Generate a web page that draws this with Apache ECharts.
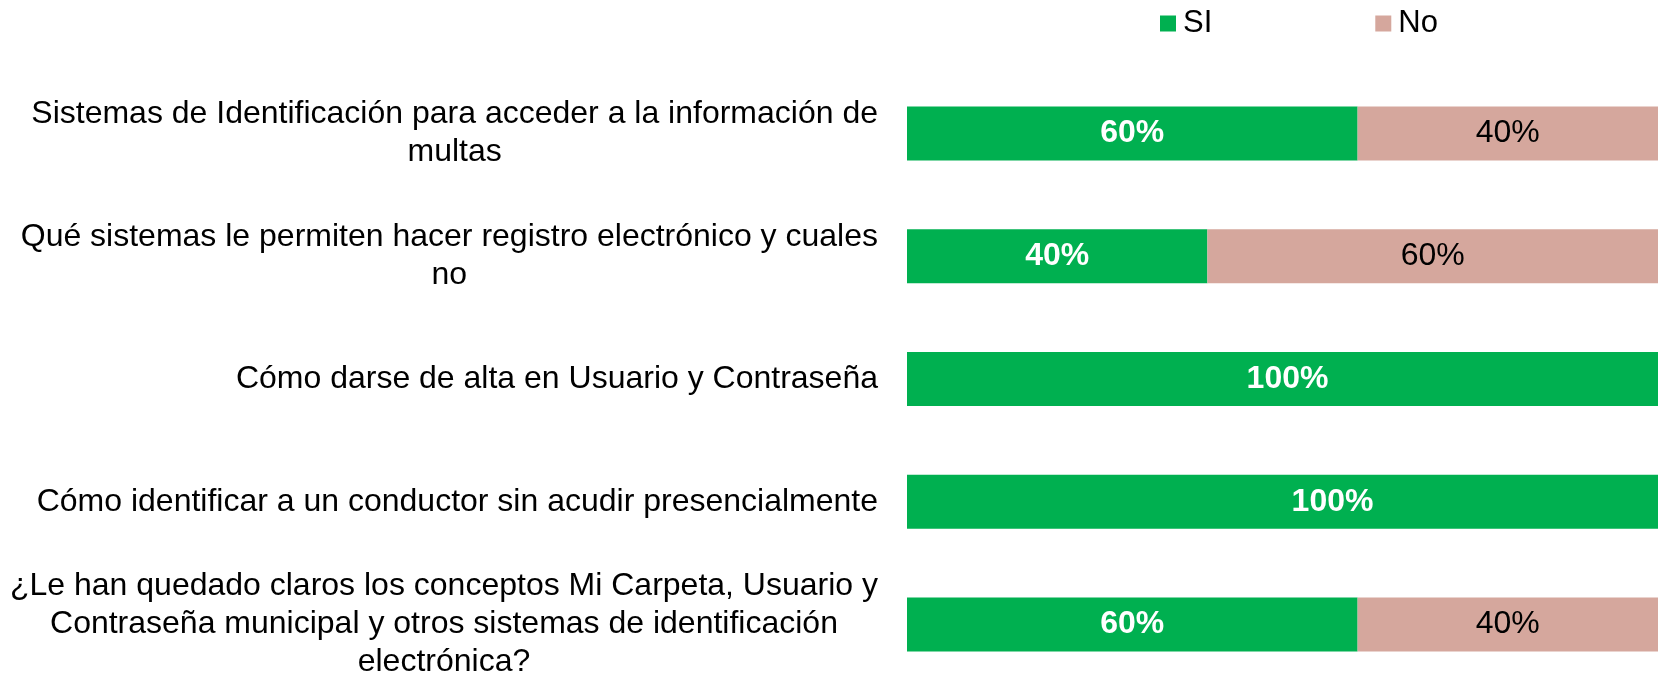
<!DOCTYPE html>
<html>
<head>
<meta charset="utf-8">
<script src="https://cdn.jsdelivr.net/npm/echarts@6/dist/echarts.min.js"></script>
<style>
    html, body { margin: 0; padding: 0; background: #fff; }
</style>
</head>
<body>
<div style="width:1658px;height:674px;" id="chart_con"></div>
<script>
// datos de la encuesta (%)
const categories = [
    'Sistemas de Identificación para acceder a la información de\nmultas',
    'Qué sistemas le permiten hacer registro electrónico y cuales\nno',
    'Cómo darse de alta en Usuario y Contraseña',
    'Cómo identificar a un conductor sin acudir presencialmente',
    '¿Le han quedado claros los conceptos Mi Carpeta, Usuario y\nContraseña municipal y otros sistemas de identificación\nelectrónica?'
];
const siValues = [60, 40, 100, 100, 60];
const noValues = [40, 60, 0, 0, 40];

// desplazamiento de etiquetas como en el original
const siLabelShift = [0, 0, 5, 50, 0];

const font = '"Liberation Sans", Arial, sans-serif';

let option = {
    animation: false,
    legend: {
        left: 1155,
        top: 3,
        itemWidth: 16,
        itemHeight: 16,
        itemGap: 163,
        icon: 'rect',
        textStyle: { fontFamily: font, fontSize: 31, color: '#000', padding: [0, 0, 0, 2] },
        data: ['SI', 'No']
    },
    grid: {
        left: 907,
        right: 0,
        top: 72,
        height: 614,
        outerBoundsMode: 'none'
    },
    xAxis: {
        type: 'value',
        min: 0,
        max: 100,
        show: false
    },
    yAxis: {
        type: 'category',
        inverse: true,
        data: categories,
        axisLine: { show: false },
        axisTick: { show: false },
        axisLabel: {
            margin: 29,
            fontFamily: font,
            fontSize: 32,
            color: '#000',
            lineHeight: 38,
            formatter: function (v) {
                return v.split('\n').map(function (l) { return '{c|' + l + '}'; }).join('\n');
            },
            rich: {
                c: { align: 'center', fontFamily: font, fontSize: 32, lineHeight: 38, color: '#000' }
            }
        }
    },
    series: [
        {
            name: 'SI',
            type: 'bar',
            stack: 'total',
            barWidth: 54,
            itemStyle: { color: '#00B050' },
            label: {
                show: true,
                position: 'inside',
                fontFamily: font,
                fontSize: 32,
                fontWeight: 'bold',
                color: '#fff',
                formatter: function (p) { return p.value > 0 ? p.value + '%' : ''; }
            },
            data: siValues.map(function (v, i) {
                return { value: v, label: { offset: [siLabelShift[i], 0] } };
            })
        },
        {
            name: 'No',
            type: 'bar',
            stack: 'total',
            barWidth: 54,
            itemStyle: { color: '#D5A79D' },
            label: {
                show: true,
                position: 'inside',
                fontFamily: font,
                fontSize: 32,
                color: '#000',
                formatter: function (p) { return p.value > 0 ? p.value + '%' : ''; }
            },
            data: noValues
        }
    ]
};

const chart = echarts.init(document.getElementById('chart_con'));
chart.setOption(option);

window.addEventListener('resize', function () {
    chart.resize();
});
</script>
</body>
</html>
